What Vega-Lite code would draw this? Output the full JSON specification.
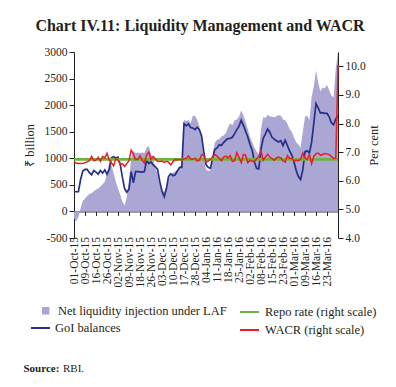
{
  "$schema": "https://vega.github.io/schema/vega-lite/v6.json",
  "width": 264,
  "height": 186,
  "autosize": {"type": "none"},
  "padding": {"left": 74, "top": 52, "right": 58, "bottom": 149},
  "background": "white",
  "title": {"text": "Chart IV.11: Liquidity Management and WACR", "font": "Liberation Serif", "fontSize": 16, "fontWeight": "bold", "color": "#231f20", "anchor": "middle", "frame": "group", "offset": 12, "dx": -6},
  "config": {
    "view": {"stroke": null},
    "axis": {"grid": false, "labelFont": "Liberation Serif", "titleFont": "Liberation Serif", "labelColor": "#231f20", "titleColor": "#231f20", "domainColor": "#231f20", "tickColor": "#231f20", "labelFontSize": 11.5, "titleFontSize": 12.5, "titleFontWeight": "normal", "zindex": 1},
    "legend": {"orient": "none", "title": null, "padding": 0, "labelFont": "Liberation Serif", "labelFontSize": 12.5, "labelColor": "#231f20", "labelLimit": 400, "symbolStrokeWidth": 2, "symbolOpacity": 1}
  },
  "data": {"values": [
    {"day":0,"laf":-130,"goi":370,"wacr":6.66,"repo":6.75},
    {"day":1,"laf":-190,"goi":370,"wacr":6.62,"repo":6.75},
    {"day":2,"laf":-100,"goi":370,"wacr":6.6,"repo":6.75},
    {"day":3,"laf":60,"goi":600,"wacr":6.6,"repo":6.75},
    {"day":4,"laf":200,"goi":760,"wacr":6.61,"repo":6.75},
    {"day":5,"laf":245,"goi":790,"wacr":6.63,"repo":6.75},
    {"day":6,"laf":290,"goi":790,"wacr":6.66,"repo":6.75},
    {"day":7,"laf":330,"goi":730,"wacr":6.7,"repo":6.75},
    {"day":8,"laf":340,"goi":690,"wacr":6.85,"repo":6.75},
    {"day":9,"laf":380,"goi":770,"wacr":6.7,"repo":6.75},
    {"day":10,"laf":410,"goi":740,"wacr":6.72,"repo":6.75},
    {"day":11,"laf":430,"goi":700,"wacr":6.82,"repo":6.75},
    {"day":12,"laf":470,"goi":770,"wacr":6.68,"repo":6.75},
    {"day":13,"laf":510,"goi":720,"wacr":6.85,"repo":6.75},
    {"day":14,"laf":560,"goi":780,"wacr":6.8,"repo":6.75},
    {"day":15,"laf":700,"goi":700,"wacr":6.96,"repo":6.75},
    {"day":16,"laf":920,"goi":790,"wacr":6.72,"repo":6.75},
    {"day":17,"laf":880,"goi":1010,"wacr":6.63,"repo":6.75},
    {"day":18,"laf":720,"goi":1030,"wacr":6.52,"repo":6.75},
    {"day":19,"laf":560,"goi":1005,"wacr":6.78,"repo":6.75},
    {"day":20,"laf":430,"goi":1020,"wacr":6.72,"repo":6.75},
    {"day":21,"laf":320,"goi":890,"wacr":6.57,"repo":6.75},
    {"day":22,"laf":180,"goi":640,"wacr":6.6,"repo":6.75},
    {"day":23,"laf":110,"goi":430,"wacr":6.5,"repo":6.75},
    {"day":24,"laf":280,"goi":360,"wacr":6.6,"repo":6.75},
    {"day":25,"laf":600,"goi":420,"wacr":6.7,"repo":6.75},
    {"day":26,"laf":1000,"goi":750,"wacr":7.07,"repo":6.75},
    {"day":27,"laf":1140,"goi":540,"wacr":6.92,"repo":6.75},
    {"day":28,"laf":1100,"goi":750,"wacr":6.74,"repo":6.75},
    {"day":29,"laf":1110,"goi":750,"wacr":6.75,"repo":6.75},
    {"day":30,"laf":1100,"goi":745,"wacr":6.87,"repo":6.75},
    {"day":31,"laf":1110,"goi":740,"wacr":6.72,"repo":6.75},
    {"day":32,"laf":1100,"goi":750,"wacr":6.62,"repo":6.75},
    {"day":33,"laf":1200,"goi":960,"wacr":6.9,"repo":6.75},
    {"day":34,"laf":1230,"goi":900,"wacr":7.0,"repo":6.75},
    {"day":35,"laf":1080,"goi":930,"wacr":6.75,"repo":6.75},
    {"day":36,"laf":980,"goi":875,"wacr":6.85,"repo":6.75},
    {"day":37,"laf":820,"goi":840,"wacr":6.76,"repo":6.75},
    {"day":38,"laf":700,"goi":790,"wacr":6.68,"repo":6.75},
    {"day":39,"laf":500,"goi":560,"wacr":6.67,"repo":6.75},
    {"day":40,"laf":400,"goi":380,"wacr":6.69,"repo":6.75},
    {"day":41,"laf":370,"goi":280,"wacr":6.64,"repo":6.75},
    {"day":42,"laf":450,"goi":430,"wacr":6.68,"repo":6.75},
    {"day":43,"laf":580,"goi":660,"wacr":6.65,"repo":6.75},
    {"day":44,"laf":690,"goi":710,"wacr":6.55,"repo":6.75},
    {"day":45,"laf":730,"goi":670,"wacr":6.67,"repo":6.75},
    {"day":46,"laf":750,"goi":690,"wacr":6.74,"repo":6.75},
    {"day":47,"laf":790,"goi":760,"wacr":6.73,"repo":6.75},
    {"day":48,"laf":840,"goi":830,"wacr":6.75,"repo":6.75},
    {"day":49,"laf":880,"goi":830,"wacr":6.72,"repo":6.75},
    {"day":50,"laf":1720,"goi":1650,"wacr":6.77,"repo":6.75},
    {"day":51,"laf":1700,"goi":1610,"wacr":6.78,"repo":6.75},
    {"day":52,"laf":1720,"goi":1650,"wacr":6.87,"repo":6.75},
    {"day":53,"laf":1660,"goi":1580,"wacr":6.76,"repo":6.75},
    {"day":54,"laf":1800,"goi":1570,"wacr":6.75,"repo":6.75},
    {"day":55,"laf":1800,"goi":1540,"wacr":6.79,"repo":6.75},
    {"day":56,"laf":1720,"goi":1585,"wacr":6.69,"repo":6.75},
    {"day":57,"laf":1600,"goi":1540,"wacr":6.72,"repo":6.75},
    {"day":58,"laf":1380,"goi":1420,"wacr":6.92,"repo":6.75},
    {"day":59,"laf":1000,"goi":1120,"wacr":6.88,"repo":6.75},
    {"day":60,"laf":790,"goi":880,"wacr":6.65,"repo":6.75},
    {"day":61,"laf":760,"goi":830,"wacr":6.69,"repo":6.75},
    {"day":62,"laf":770,"goi":810,"wacr":6.75,"repo":6.75},
    {"day":63,"laf":1050,"goi":1000,"wacr":6.83,"repo":6.75},
    {"day":64,"laf":1290,"goi":1170,"wacr":6.92,"repo":6.75},
    {"day":65,"laf":1350,"goi":1190,"wacr":6.86,"repo":6.75},
    {"day":66,"laf":1360,"goi":1255,"wacr":6.79,"repo":6.75},
    {"day":67,"laf":1410,"goi":1240,"wacr":6.7,"repo":6.75},
    {"day":68,"laf":1430,"goi":1295,"wacr":6.83,"repo":6.75},
    {"day":69,"laf":1470,"goi":1340,"wacr":6.86,"repo":6.75},
    {"day":70,"laf":1580,"goi":1370,"wacr":6.8,"repo":6.75},
    {"day":71,"laf":1660,"goi":1375,"wacr":6.88,"repo":6.75},
    {"day":72,"laf":1620,"goi":1395,"wacr":6.67,"repo":6.75},
    {"day":73,"laf":1710,"goi":1465,"wacr":6.7,"repo":6.75},
    {"day":74,"laf":1730,"goi":1540,"wacr":6.98,"repo":6.75},
    {"day":75,"laf":1780,"goi":1600,"wacr":6.82,"repo":6.75},
    {"day":76,"laf":1900,"goi":1715,"wacr":6.63,"repo":6.75},
    {"day":77,"laf":1810,"goi":1620,"wacr":6.92,"repo":6.75},
    {"day":78,"laf":1680,"goi":1510,"wacr":6.9,"repo":6.75},
    {"day":79,"laf":1550,"goi":1400,"wacr":6.63,"repo":6.75},
    {"day":80,"laf":1400,"goi":1260,"wacr":6.72,"repo":6.75},
    {"day":81,"laf":1300,"goi":1150,"wacr":6.68,"repo":6.75},
    {"day":82,"laf":1200,"goi":930,"wacr":6.67,"repo":6.75},
    {"day":83,"laf":1130,"goi":810,"wacr":6.77,"repo":6.75},
    {"day":84,"laf":1070,"goi":800,"wacr":6.85,"repo":6.75},
    {"day":85,"laf":1550,"goi":1170,"wacr":7.05,"repo":6.75},
    {"day":86,"laf":1770,"goi":1375,"wacr":6.72,"repo":6.75},
    {"day":87,"laf":1760,"goi":1455,"wacr":6.82,"repo":6.75},
    {"day":88,"laf":1820,"goi":1550,"wacr":6.93,"repo":6.75},
    {"day":89,"laf":1790,"goi":1490,"wacr":6.83,"repo":6.75},
    {"day":90,"laf":1780,"goi":1395,"wacr":6.77,"repo":6.75},
    {"day":91,"laf":1770,"goi":1360,"wacr":6.72,"repo":6.75},
    {"day":92,"laf":1790,"goi":1330,"wacr":6.8,"repo":6.75},
    {"day":93,"laf":1815,"goi":1305,"wacr":6.83,"repo":6.75},
    {"day":94,"laf":1800,"goi":1330,"wacr":6.8,"repo":6.75},
    {"day":95,"laf":1730,"goi":1240,"wacr":6.7,"repo":6.75},
    {"day":96,"laf":1715,"goi":1340,"wacr":6.65,"repo":6.75},
    {"day":97,"laf":1650,"goi":1240,"wacr":6.88,"repo":6.75},
    {"day":98,"laf":1550,"goi":1140,"wacr":6.78,"repo":6.75},
    {"day":99,"laf":1500,"goi":1060,"wacr":6.78,"repo":6.75},
    {"day":100,"laf":1390,"goi":930,"wacr":6.7,"repo":6.75},
    {"day":101,"laf":1300,"goi":770,"wacr":6.72,"repo":6.75},
    {"day":102,"laf":1260,"goi":655,"wacr":6.7,"repo":6.75},
    {"day":103,"laf":1200,"goi":600,"wacr":6.75,"repo":6.75},
    {"day":104,"laf":1500,"goi":780,"wacr":6.97,"repo":6.75},
    {"day":105,"laf":1780,"goi":1125,"wacr":6.8,"repo":6.75},
    {"day":106,"laf":1800,"goi":1140,"wacr":6.75,"repo":6.75},
    {"day":107,"laf":1720,"goi":1100,"wacr":6.92,"repo":6.75},
    {"day":108,"laf":2150,"goi":1300,"wacr":6.6,"repo":6.75},
    {"day":109,"laf":2350,"goi":1660,"wacr":6.85,"repo":6.75},
    {"day":110,"laf":2650,"goi":2030,"wacr":6.95,"repo":6.75},
    {"day":111,"laf":2420,"goi":1950,"wacr":6.97,"repo":6.75},
    {"day":112,"laf":2260,"goi":1850,"wacr":6.89,"repo":6.75},
    {"day":113,"laf":2330,"goi":1860,"wacr":6.92,"repo":6.75},
    {"day":114,"laf":2320,"goi":1845,"wacr":6.95,"repo":6.75},
    {"day":115,"laf":2380,"goi":1845,"wacr":6.94,"repo":6.75},
    {"day":116,"laf":2280,"goi":1780,"wacr":6.91,"repo":6.75},
    {"day":117,"laf":2180,"goi":1670,"wacr":6.85,"repo":6.75},
    {"day":118,"laf":2150,"goi":1630,"wacr":6.78,"repo":6.75},
    {"day":119,"laf":2700,"goi":1740,"wacr":6.8,"repo":6.75},
    {"day":120,"laf":3000,"goi":1800,"wacr":10.05,"repo":6.75}
  ]},
  "layer": [
    {
      "encoding": {
        "x": {"field": "day", "type": "quantitative", "scale": {"domain": [0, 120], "nice": false, "zero": false},
          "axis": {"orient": "bottom", "offset": -26.57, "values": [0,5,10,15,20,25,30,35,40,45,50,55,60,65,70,75,80,85,90,95,100,105,110,115], "tickSize": 4, "labelPadding": 21, "labelAngle": -90, "labelFontSize": 11.5, "labelOverlap": false, "labelFlush": false,
            "labelExpr": "['01-Oct-15','09-Oct-15','16-Oct-15','26-Oct-15','02-Nov-15','09-Nov-15','18-Nov-15','26-Nov-15','03-Dec-15','10-Dec-15','17-Dec-15','28-Dec-15','04-Jan-16','11-Jan-16','18-Jan-16','25-Jan-16','02-Feb-16','08-Feb-16','15-Feb-16','23-Feb-16','01-Mar-16','09-Mar-16','16-Mar-16','23-Mar-16'][round(datum.value/5)]",
            "title": "Source:", "titleFontWeight": "bold", "titleFontSize": 11, "titleAlign": "left", "titleAnchor": "start", "titleBaseline": "alphabetic", "titleX": -51, "titleY": 160}}
      },
      "layer": [
        {
          "mark": {"type": "area", "opacity": 1},
          "encoding": {
            "y": {"field": "laf", "type": "quantitative", "scale": {"domain": [-500, 3000], "nice": false},
              "axis": {"orient": "left", "values": [-500,0,500,1000,1500,2000,2500,3000], "labelExpr": "'' + datum.value", "tickSize": 5, "labelPadding": 2, "title": "₹ billion", "titlePadding": 8}},
            "fill": {"datum": "Net liquidity injection under LAF", "type": "nominal",
              "scale": {"domain": ["Net liquidity injection under LAF"], "range": ["#aba7d5"]},
              "legend": {"legendX": -34.5, "legendY": 252.5, "symbolType": "square", "symbolSize": 56, "labelOffset": 6}}
          }
        },
        {
          "mark": {"type": "line", "strokeWidth": 1.7},
          "encoding": {
            "y": {"field": "goi", "type": "quantitative", "scale": {"domain": [-500, 3000], "nice": false},
              "axis": {"orient": "left", "values": [-500,0,500,1000,1500,2000,2500,3000], "labelExpr": "'' + datum.value", "tickSize": 5, "labelPadding": 2, "title": "₹ billion", "titlePadding": 8}},
            "stroke": {"datum": "GoI balances", "type": "nominal",
              "scale": {"domain": ["GoI balances"], "range": ["#262f87"]},
              "legend": {"legendX": -44, "legendY": 265.5, "symbolType": "stroke", "symbolSize": 361, "labelOffset": 4}}
          }
        }
      ]
    },
    {
      "encoding": {
        "x": {"field": "day", "type": "quantitative", "scale": {"domain": [0, 120], "nice": false, "zero": false},
          "axis": {"orient": "bottom", "domain": false, "ticks": false, "labels": false, "title": "RBI.", "titleFontSize": 11, "titleFontWeight": "normal", "titleAlign": "left", "titleAnchor": "start", "titleBaseline": "alphabetic", "titleX": -11.5, "titleY": 133.4}}
      },
      "layer": [
        {
          "mark": {"type": "line", "strokeWidth": 2.8},
          "encoding": {
            "y": {"field": "repo", "type": "quantitative", "scale": {"domain": [4, 10.5], "nice": false, "zero": false},
              "axis": {"orient": "right", "values": [4,5,6,7,8,9,10], "labelExpr": "format(datum.value, '.1f')", "tickSize": 5, "labelPadding": 2, "title": "Per cent", "titleAngle": -90, "titleBaseline": "top", "titlePadding": 2}},
            "color": {"datum": "Repo rate (right scale)", "type": "nominal",
              "scale": {"domain": ["Repo rate (right scale)", "WACR (right scale)"], "range": ["#6cb33f", "#ed1c24"]},
              "legend": {"legendX": 165, "legendY": 249.5, "symbolType": "stroke", "symbolSize": 361, "labelOffset": 5, "rowPadding": 1}}
          }
        },
        {
          "mark": {"type": "line", "strokeWidth": 1.5},
          "encoding": {
            "y": {"field": "wacr", "type": "quantitative", "scale": {"domain": [4, 10.5], "nice": false, "zero": false},
              "axis": {"orient": "right", "values": [4,5,6,7,8,9,10], "labelExpr": "format(datum.value, '.1f')", "tickSize": 5, "labelPadding": 2, "title": "Per cent", "titleAngle": -90, "titleBaseline": "top", "titlePadding": 2}},
            "color": {"datum": "WACR (right scale)", "type": "nominal"}
          }
        }
      ]
    }
  ],
  "resolve": {"scale": {"y": "independent"}, "axis": {"x": "independent"}}
}
